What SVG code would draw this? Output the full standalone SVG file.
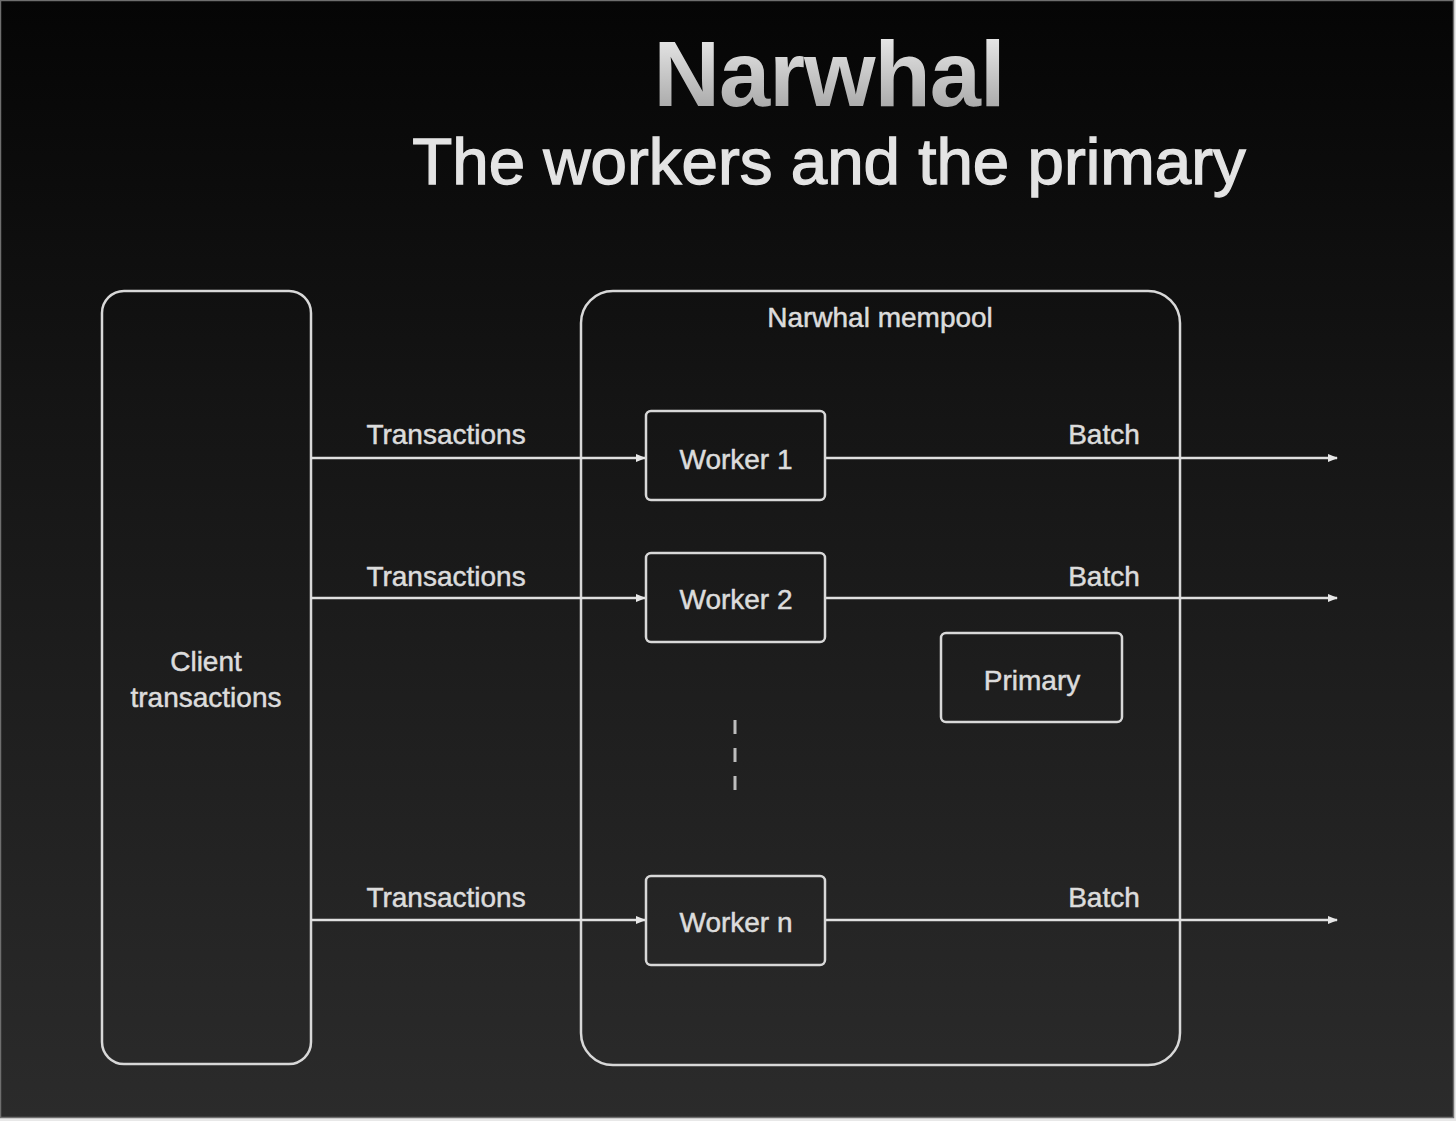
<svg xmlns="http://www.w3.org/2000/svg" width="1456" height="1121" viewBox="0 0 1456 1121">
  <defs>
    <linearGradient id="bg" x1="0" y1="0" x2="0" y2="1">
      <stop offset="0" stop-color="#050505"/>
      <stop offset="0.35" stop-color="#141414"/>
      <stop offset="0.65" stop-color="#1f1f1f"/>
      <stop offset="1" stop-color="#2b2b2b"/>
    </linearGradient>
    <linearGradient id="titleFill" x1="0" y1="0" x2="0" y2="1">
      <stop offset="0" stop-color="#f2f2f2"/>
      <stop offset="1" stop-color="#9c9c9c"/>
    </linearGradient>
    <marker id="arrow" viewBox="0 0 10 10" refX="9" refY="5" markerWidth="10" markerHeight="10" markerUnits="userSpaceOnUse" orient="auto">
      <path d="M0,1 L10,5 L0,9 Z" fill="#e6e6e6"/>
    </marker>
  </defs>
  <style>
    .box { fill: none; stroke: #d8d8d8; stroke-width: 2.5; }
    .lbl { font-family: "Liberation Sans", Arial, sans-serif; font-size: 28px; fill: #dcdcdc; text-anchor: middle; stroke: #dcdcdc; stroke-width: 0.5; }
    .conn { stroke: #e0e0e0; stroke-width: 2.5; fill: none; }
  </style>

  <rect x="0" y="0" width="1456" height="1121" fill="#e8e8e8"/>
  <rect x="0.5" y="0.5" width="1453" height="1117" fill="url(#bg)" stroke="#6e6e6e" stroke-width="1.5"/>

  <g id="title">
    <text x="829" y="106" font-family="'Liberation Sans', Arial, sans-serif" font-weight="bold" font-size="92" fill="url(#titleFill)" text-anchor="middle" letter-spacing="-1">Narwhal</text>
    <text x="829" y="184" font-family="'Liberation Sans', Arial, sans-serif" font-size="65.5" fill="#e4e4e4" stroke="#e4e4e4" stroke-width="1.3" text-anchor="middle">The workers and the primary</text>
  </g>

  <g id="client">
    <rect class="box" x="102" y="291" width="209" height="773" rx="22"/>
    <text class="lbl" x="206" y="671">Client</text>
    <text class="lbl" x="206" y="707">transactions</text>
  </g>

  <g id="mempool">
    <rect class="box" x="581" y="291" width="599" height="774" rx="32"/>
    <text class="lbl" x="880" y="327">Narwhal mempool</text>
  </g>

  <g id="connectors">
    <line class="conn" x1="311" y1="458" x2="645" y2="458" marker-end="url(#arrow)"/>
    <line class="conn" x1="311" y1="598" x2="645" y2="598" marker-end="url(#arrow)"/>
    <line class="conn" x1="311" y1="920" x2="645" y2="920" marker-end="url(#arrow)"/>
    <line class="conn" x1="825" y1="458" x2="1337" y2="458" marker-end="url(#arrow)"/>
    <line class="conn" x1="825" y1="598" x2="1337" y2="598" marker-end="url(#arrow)"/>
    <line class="conn" x1="825" y1="920" x2="1337" y2="920" marker-end="url(#arrow)"/>
    <text class="lbl" x="446" y="444">Transactions</text>
    <text class="lbl" x="446" y="586">Transactions</text>
    <text class="lbl" x="446" y="907">Transactions</text>
    <text class="lbl" x="1104" y="444">Batch</text>
    <text class="lbl" x="1104" y="586">Batch</text>
    <text class="lbl" x="1104" y="907">Batch</text>
  </g>

  <g id="worker1">
    <rect class="box" x="646" y="411" width="179" height="89" rx="5" fill="#141414"/>
    <text class="lbl" x="736" y="469">Worker 1</text>
  </g>

  <g id="worker2">
    <rect class="box" x="646" y="553" width="179" height="89" rx="5"/>
    <text class="lbl" x="736" y="609">Worker 2</text>
  </g>

  <g id="workern">
    <rect class="box" x="646" y="876" width="179" height="89" rx="5"/>
    <text class="lbl" x="736" y="932">Worker n</text>
  </g>

  <g id="primary">
    <rect class="box" x="941" y="633" width="181" height="89" rx="5"/>
    <text class="lbl" x="1032" y="690">Primary</text>
  </g>

  <g id="ellipsis">
    <line x1="735" y1="720" x2="735" y2="791" stroke="#bdbdbd" stroke-width="3" stroke-dasharray="14,14"/>
  </g>
</svg>
